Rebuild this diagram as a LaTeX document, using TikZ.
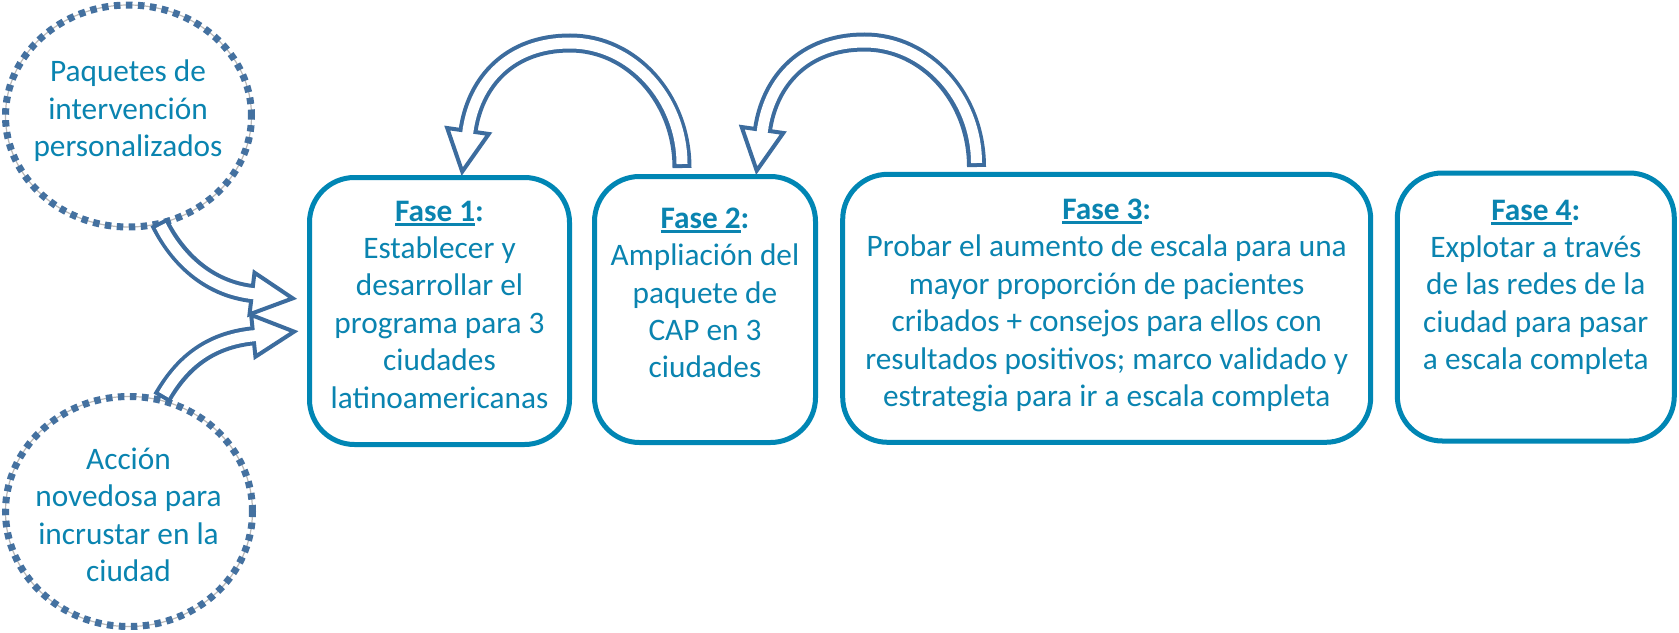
\documentclass[tikz,border=0pt]{standalone}
\usepackage{fontspec}
\setmainfont{Carlito}
\usetikzlibrary{shapes.geometric,calc}
\definecolor{bcol}{RGB}{0,134,180}
\definecolor{tcol}{RGB}{10,132,176}
\definecolor{acol}{RGB}{60,108,158}
\definecolor{dcol}{RGB}{68,113,160}
\definecolor{gcol}{RGB}{185,185,185}
\newcommand{\topstrut}{\rule{0pt}{25pt}}
\newcommand{\fase}[1]{\setbox0\hbox{\bfseries #1}\rlap{\rule[-4.7pt]{\wd0}{3pt}}\box0\textbf{:}}
\newcommand{\blockarrow}[3]{%
  \draw[acol, line width=19pt] #1;
  \draw[white, line width=11pt, shorten <=4pt] #1;
  \draw[acol, fill=white, line width=4pt, line join=miter]
     ($(#2)+(#3+90:21)$) -- ($(#2)+(#3:41)$) -- ($(#2)+(#3-90:21)$) -- cycle;
  \draw[white, line width=11pt] ($(#2)+(#3+180:3)$) -- ($(#2)+(#3:3)$);
}
\begin{document}
\begin{tikzpicture}[x=1pt,y=-1pt,
  phase/.style={draw=bcol, line width=5pt, rounded corners=45pt, inner sep=0pt, outer sep=0pt},
  dotring/.style={ellipse, draw=dcol, line width=7pt, dash pattern=on 6.5pt off 5.5pt,
    preaction={draw=gcol, line width=1.2pt, solid}, inner sep=0pt},
  txt/.style={text=tcol, font=\fontsize{31.3pt}{37.4pt}\selectfont, align=center, inner sep=0pt, outer sep=0pt, anchor=north}]
\fill[white] (0,0) rectangle (1679,632);
\useasboundingbox (0,0) rectangle (1679,632);

% phase boxes
\node[phase, minimum width=260pt, minimum height=267pt] (b1) at (439.5,311) {};
\node[phase, minimum width=221pt, minimum height=266pt] (b2) at (705,309.5) {};
\node[phase, minimum width=528pt, minimum height=268pt] (b3) at (1106.7,308.3) {};
\node[phase, minimum width=277pt, minimum height=268pt] (b4) at (1535.8,307) {};

% dotted circles
\node[dotring, minimum width=246pt, minimum height=222pt] (c1) at (128.5,116) {};
\node[dotring, minimum width=247pt, minimum height=230pt] (c2) at (129,511.5) {};

% texts
\node[txt] (c1t) at (128,56.7) {\topstrut Paquetes de\\intervención\\personalizados};
\node[txt] (c2t) at (128.5,444.3) {\topstrut Acción\\novedosa para\\incrustar en la\\ciudad};
\node[txt] (b1t) at (439.5,196) {\topstrut\fase{Fase 1}\\Establecer y\\desarrollar el\\programa para 3\\ciudades\\latinoamericanas};
\node[txt] (b2t) at (705,203.3) {\topstrut\fase{Fase 2}\\Ampliación del\\paquete de\\CAP en 3\\ciudades};
\node[txt] (b3t) at (1106.7,194.4) {\topstrut\fase{Fase 3}\\Probar el aumento de escala para una\\mayor proporción de pacientes\\cribados + consejos para ellos con\\resultados positivos; marco validado y\\estrategia para ir a escala completa};
\node[txt] (b4t) at (1535.8,195) {\topstrut\fase{Fase 4}\\Explotar a través\\de las redes de la\\ciudad para pasar\\a escala completa};

% arrow end points
\coordinate (u1s) at (159,222);
\coordinate (u1e) at (252,293.5);
\coordinate (u2s) at (161.7,398.3);
\coordinate (u2e) at (253.3,335.8);
\coordinate (a1s) at (682,168);
\coordinate (a1e) at (468,131);
\coordinate (a2s) at (976.5,167);
\coordinate (a2e) at (762.5,130);

% block arrows
\blockarrow{(u1s) .. controls (176.9,257.8) and (207.3,288.1) .. (u1e)}{u1e}{6.8}
\blockarrow{(u2s) .. controls (181.7,363.7) and (208.5,340.4) .. (u2e)}{u2e}{-5.85}
\blockarrow{(a1s) .. controls (682,99) and (632,43) .. (570,43) .. controls (510,43) and (475,81.5) .. (a1e)}{a1e}{98.1}
\blockarrow{(a2s) .. controls (976.5,98) and (926.5,42) .. (864.5,42) .. controls (804.5,42) and (769.5,80.5) .. (a2e)}{a2e}{98.1}
\end{tikzpicture}
\end{document}
